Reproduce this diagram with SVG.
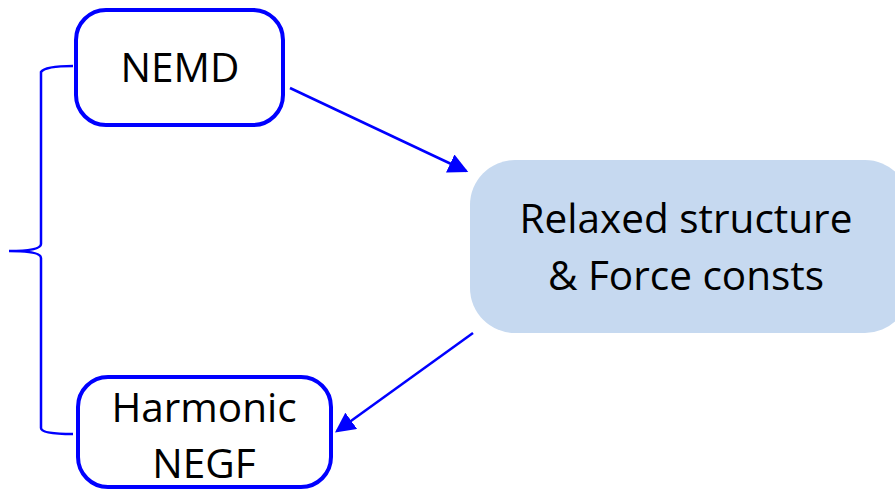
<svg xmlns="http://www.w3.org/2000/svg" width="895" height="491" viewBox="0 0 895 491">
<style>
.node{fill:#fff;stroke:#0000FF;stroke-width:4}
.lbl{font-family:"Open Sans","Liberation Sans",sans-serif;font-size:40.5px;fill:#000;text-anchor:middle}
.conn{fill:none;stroke:#0000FF;stroke-width:2.5}
</style>
<defs>
<marker id="ah" markerWidth="8" markerHeight="8" refX="7" refY="4" orient="auto" markerUnits="strokeWidth">
<path d="M0,0 L8,4 L0,8 z" fill="#0000FF"/>
</marker>
</defs>
<g id="brace">
<path class="conn" stroke-width="4" d="M73,66 Q45,66 41,72 L41,244 Q41,251 9,251 Q41,251 41,258 L41,428 Q41,434 73,434"/>
</g>
<g id="nemd">
<rect class="node" x="76" y="10" width="207" height="115" rx="30"/>
<text class="lbl" x="180" y="82">NEMD</text>
</g>
<g id="relaxed">
<rect x="470" y="160" width="440" height="173" rx="45" fill="#C6D9F0"/>
<text class="lbl" x="686" y="233">Relaxed structure</text>
<text class="lbl" x="686" y="290">&amp; Force consts</text>
</g>
<g id="negf">
<rect class="node" x="78" y="377" width="253" height="110" rx="30"/>
<text class="lbl" x="204" y="422">Harmonic</text>
<text class="lbl" x="204" y="478">NEGF</text>
</g>
<g id="connectors">
<line class="conn" x1="290" y1="88" x2="466" y2="171" marker-end="url(#ah)"/>
<line class="conn" x1="473" y1="333" x2="337" y2="431" marker-end="url(#ah)"/>
</g>
</svg>
